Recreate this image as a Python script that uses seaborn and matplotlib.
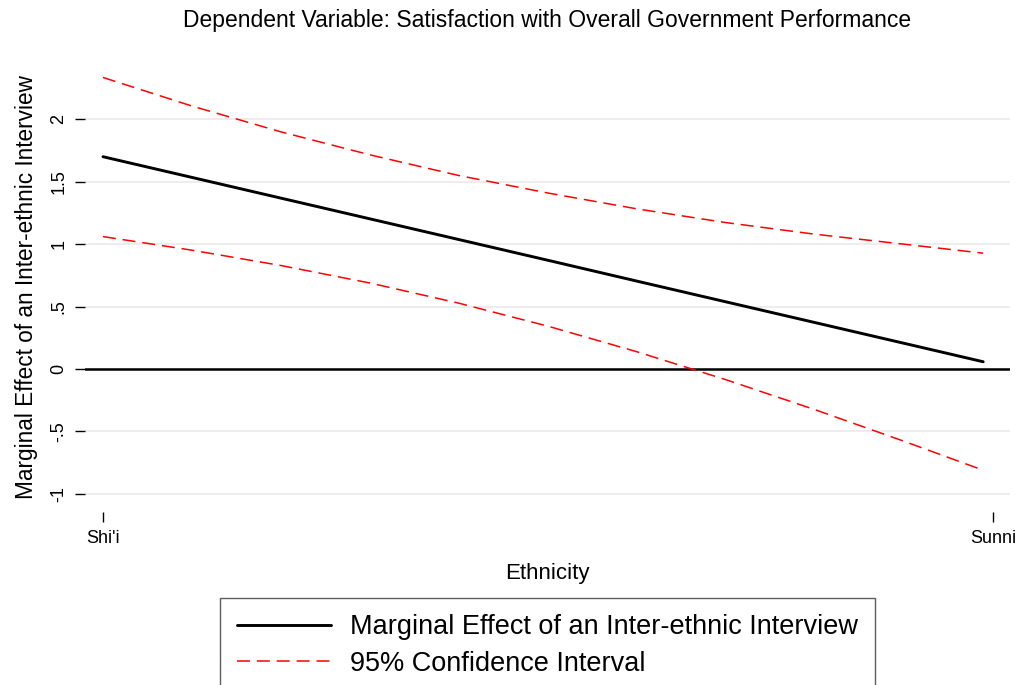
import numpy as np
import pandas as pd
import matplotlib
matplotlib.use("Agg")
import matplotlib.pyplot as plt
import seaborn as sns

# ---- data ----
ethnicity_pos = [0.0, 0.1, 0.2, 0.3, 0.4, 0.5, 0.6, 0.7, 0.8, 0.9, 0.989]
marginal_effect = [1.701, 1.535, 1.369, 1.203, 1.037, 0.871, 0.704, 0.538, 0.372, 0.206, 0.058]
ci_upper = [2.336, 2.107, 1.900, 1.716, 1.550, 1.410, 1.283, 1.173, 1.080, 1.000, 0.928]
ci_lower = [1.061, 0.952, 0.829, 0.689, 0.527, 0.343, 0.138, -0.086, -0.326, -0.579, -0.811]
x_tick_pos = [0, 1]
x_tick_labels = ["Shi'i", "Sunni"]
y_tick_pos = [-1, -0.5, 0, 0.5, 1, 1.5, 2]
y_tick_labels = ["-1", "-.5", "0", ".5", "1", "1.5", "2"]
title = "Dependent Variable: Satisfaction with Overall Government Performance"
x_label = "Ethnicity"
y_label = "Marginal Effect of an Inter-ethnic Interview"
legend_labels = ["Marginal Effect of an Inter-ethnic Interview", "95% Confidence Interval"]

df = pd.DataFrame({"x": ethnicity_pos, "me": marginal_effect,
                   "hi": ci_upper, "lo": ci_lower})

sns.set_theme(style="white")
plt.rcParams["font.family"] = ["Liberation Sans", "DejaVu Sans"]
plt.rcParams["text.color"] = "black"
plt.rcParams["axes.labelcolor"] = "black"

W, H = 1021, 685
fig = plt.figure(figsize=(W / 100, H / 100), dpi=100)
ax_l, ax_r, ax_t, ax_b = 85, 1010, 62, 505
ax = fig.add_axes([ax_l / W, 1 - ax_b / H, (ax_r - ax_l) / W, (ax_b - ax_t) / H])

# scales: t=0 at px 103, t=1 at px 993 ; y: 0 at 369, 124.8 px/unit
px_x = 890.0
ax.set_xlim((ax_l - 103) / px_x, (ax_r - 103) / px_x)
ax.set_ylim((369 - ax_b) / 124.8, (369 - ax_t) / 124.8)

ax.yaxis.grid(True, color="#e8e8e8", linewidth=1.1)
ax.xaxis.grid(False)
ax.set_axisbelow(True)
ax.axhline(0, color="black", linewidth=1.8, zorder=2)

dash = (0, (8.5, 4.5))
sns.lineplot(data=df, x="x", y="me", ax=ax, color="black", linewidth=2.1,
             label=legend_labels[0], zorder=3)
sns.lineplot(data=df, x="x", y="hi", ax=ax, color="#ff0000", linewidth=1.1,
             linestyle=dash, label=legend_labels[1], zorder=3)
sns.lineplot(data=df, x="x", y="lo", ax=ax, color="#ff0000", linewidth=1.1,
             linestyle=dash, label="_nolegend_", zorder=3)

for s in ax.spines.values():
    s.set_visible(False)
ax.spines["bottom"].set_position(("outward", 5))

ax.set_xticks(x_tick_pos)
ax.set_xticklabels(x_tick_labels)
ax.set_yticks(y_tick_pos)
ax.set_yticklabels(y_tick_labels, rotation=90, va="center")
ax.tick_params(axis="both", which="major", direction="out", length=7.2, width=1.0,
               color="black", labelsize=13, labelcolor="black", pad=5.5,
               bottom=True, left=True)

ax.set_xlabel(x_label, fontsize=16, color="black", va="center")
ax.xaxis.set_label_coords(0.5, (ax_b - 573) / (ax_b - ax_t))
ax.set_ylabel(y_label, fontsize=16.3, color="black", va="center")
ax.yaxis.set_label_coords((27 - ax_l) / (ax_r - ax_l), (ax_b - 287) / (ax_b - ax_t))

fig.text(547.5 / W, 1 - 20 / H, title, ha="center", va="center", fontsize=16.5,
         color="black")

leg = ax.legend(loc="upper center", bbox_to_anchor=(547.5 / W, 1 - 598 / H),
                bbox_transform=fig.transFigure, fontsize=19.5, frameon=True,
                fancybox=False, shadow=False, handlelength=3.5,
                handletextpad=0.7, borderpad=0.6, labelspacing=0.38,
                borderaxespad=0)
for t in leg.get_texts():
    t.set_color("black")
leg.get_frame().set_edgecolor("#333333")
leg.get_frame().set_linewidth(1.0)
leg.get_frame().set_facecolor("white")

fig.savefig("out.png", dpi=100)
